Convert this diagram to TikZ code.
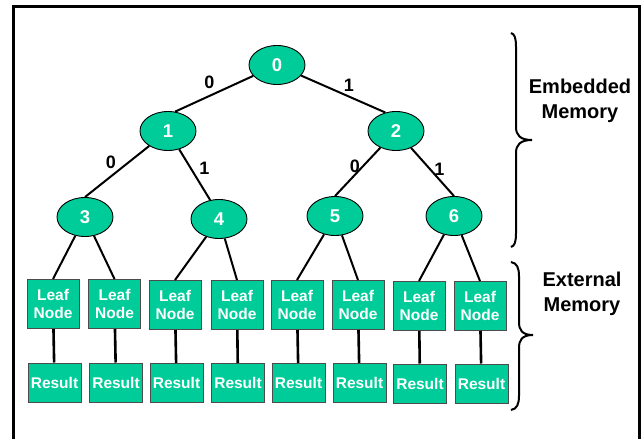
\documentclass[tikz,border=0pt]{standalone}
\usepackage{fontspec}
\setmainfont{Liberation Sans}
\usetikzlibrary{shapes.geometric}
\definecolor{memgreen}{RGB}{0,204,153}

\begin{document}
\begin{tikzpicture}[x=1pt,y=-1pt,
  tnode/.style={ellipse,draw=black,line width=0.9pt,fill=memgreen,minimum width=56pt,
    minimum height=39pt,inner sep=0pt,text=white,font=\fontsize{18.5}{18}\selectfont\bfseries},
  leaf/.style={rectangle,draw=black!70,line width=1pt,fill=memgreen,minimum width=52pt,
    minimum height=49pt,inner sep=0pt,text=white,align=center,font=\fontsize{15.5}{18.5}\selectfont\bfseries},
  res/.style={leaf,minimum width=53pt,minimum height=39pt},
  bit/.style={font=\fontsize{18}{18}\selectfont\bfseries},
  mem/.style={align=center,font=\fontsize{20}{25}\selectfont\bfseries},
  branch/.style={line width=2pt},
  wire/.style={line width=2.6pt}]
\clip (0,0) rectangle (643,439);
\draw[line width=3.5pt] (13.5,6.5) rectangle (639.5,470);
\node[tnode] (n0) at (277,65) {0};
\node[tnode] (n1) at (168,131) {1};
\node[tnode] (n2) at (396,131) {2};
\node[tnode] (n3) at (85,217) {3};
\node[tnode] (n4) at (219,219) {4};
\node[tnode] (n5) at (335,216) {5};
\node[tnode] (n6) at (454,216) {6};
\node[leaf] (l1) at (53,304) {Leaf\\Node};
\node[leaf] (l2) at (114.5,304) {Leaf\\Node};
\node[leaf] (l3) at (175,305) {Leaf\\Node};
\node[leaf] (l4) at (237,305) {Leaf\\Node};
\node[leaf] (l5) at (297,305) {Leaf\\Node};
\node[leaf] (l6) at (358,305) {Leaf\\Node};
\node[leaf] (l7) at (419,306) {Leaf\\Node};
\node[leaf] (l8) at (480,306) {Leaf\\Node};
\node[res] (r1) at (54.5,382.5) {Result};
\node[res] (r2) at (116,382.5) {Result};
\node[res] (r3) at (176.5,383) {Result};
\node[res] (r4) at (238,383) {Result};
\node[res] (r5) at (298.5,383) {Result};
\node[res] (r6) at (359.5,383) {Result};
\node[res] (r7) at (420,383.5) {Result};
\node[res] (r8) at (481.5,383.5) {Result};
\draw[branch] (n0)--(n1.70) (n0)--(n2.120) (n1)--(n3.north) (n1)--(n4.115)
  (n2)--(n5.north) (n2)--(n6.north);
\draw[branch] (n3)--(l1.north) (n3)--(l2.north) (n4)--(l3.north) (n4)--(l4.north)
  (n5)--(l5.north) (n5)--(l6.north) (n6)--(l7.north) (n6)--(l8.north);
\draw[wire] (l1)--(r1) (l2)--(r2) (l3)--(r3) (l4)--(r4) (l5)--(r5) (l6)--(r6) (l7)--(r7) (l8)--(r8);
\node[bit] (b01) at (209.5,82) {0};
\node[bit] (b02) at (349,85) {1};
\node[bit] (b13) at (111,162) {0};
\node[bit] (b14) at (204.5,168) {1};
\node[bit] (b25) at (355,166) {0};
\node[bit] (b26) at (439.5,169) {1};
\draw[line width=2pt] (511,33) .. controls (515,34) and (516,39) .. (516,47) -- (516,127)
  .. controls (516,135) and (520,140) .. (532,140) .. controls (520,140) and (516,145) .. (516,153)
  -- (516,233) .. controls (516,241) and (515,246) .. (511,247);
\draw[line width=2pt] (511,262) .. controls (517,263) and (519,268) .. (519,276) -- (519,322)
  .. controls (519,330) and (522,335) .. (533,335) .. controls (522,335) and (519,340) .. (519,348)
  -- (519,396) .. controls (519,404) and (517,409) .. (511,410);
\node[mem] (emb) at (580,101) {Embedded\\Memory};
\node[mem] (ext) at (582,294) {External\\Memory};
\end{tikzpicture}
\end{document}
